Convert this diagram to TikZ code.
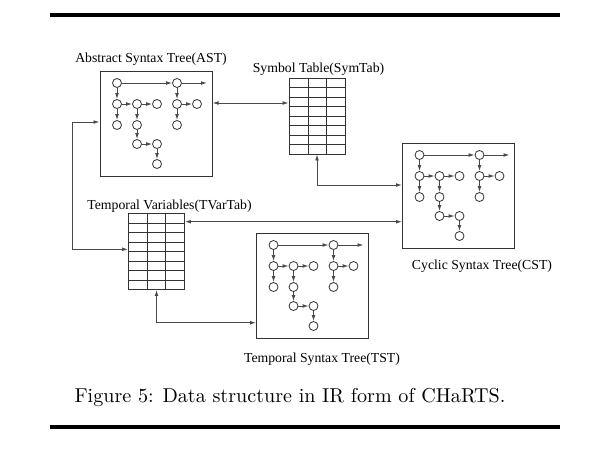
\documentclass[tikz,border=0pt]{standalone}
\usepackage{fontspec}
\newfontfamily\labelfont{Liberation Serif}
\usepackage{tikz}
\usetikzlibrary{positioning,arrows.meta,calc}
\usepackage{xcolor}
\definecolor{ink}{HTML}{333333}
\definecolor{wire}{HTML}{4A4A4A}
\tikzset{panel/.style={draw=ink,line width=1pt,minimum width=112pt,minimum height=105pt,inner sep=0pt},
  vertex/.style={circle,draw=ink,line width=0.8pt,minimum size=9pt,inner sep=0pt},
  treearrow/.style={->,draw=wire,line width=0.9pt},
  link/.style={<->,draw=wire,line width=0.9pt},
  tabbox/.style={draw=ink,line width=0.9pt,minimum width=56pt,minimum height=76pt,inner sep=0pt},
  title/.style={font=\labelfont\fontsize{13.75}{16}\selectfont,anchor=base},
  rule/.style={line width=4pt}}
\newcommand{\syntree}[2]{%
  \begin{scope}[shift={#2}]
    \node[panel] (#1) at (56,52.5) {};
    \foreach \n/\px/\py in {r/17/12,s/77/12,a1/17/33,a2/37/33,a3/57/33,b1/17/54,b2/37/54,
        c2/37/73,c3/57/73,d3/57/93,s1/77/33,s2/97/33,t1/77/54}
      \node[vertex] (#1-\n) at (\px,\py) {};
    \coordinate (#1-out) at (107,12);
    \foreach \u/\v in {r/s,s/out,r/a1,a1/a2,a2/a3,a1/b1,a2/b2,b2/c2,c2/c3,c3/d3,s/s1,s1/s2,s1/t1}
      \draw[treearrow] (#1-\u) -- (#1-\v);
  \end{scope}}
\newcommand{\vartab}[2]{%
  \begin{scope}[shift={#2}]
    \node[tabbox] (#1) at (28,38) {};
    \foreach \cx in {19,37} \draw[ink,line width=0.8pt] (\cx,0) -- (\cx,76);
    \foreach \ry in {1,...,7} \draw[ink,line width=0.8pt] (0,9.5*\ry) -- (56,9.5*\ry);
  \end{scope}}

\begin{document}
\begin{tikzpicture}[x=1pt,y=-1pt,>={Latex[length=6pt,width=3.8pt]}]
  \useasboundingbox (0,0) rectangle (615,448);
  \draw[rule] (50,15) -- (560,15);
  \draw[rule] (50,427) -- (560,427);
  % trees and tables
  \syntree{ast}{(100,71)}
  \syntree{cst}{(402.5,143)}
  \syntree{tst}{(256.5,233)}
  \vartab{symtab}{(289,78)}
  \vartab{tvar}{(128.5,213.5)}
  % labels
  \node[title] (astlbl) at (151,62.5) {Abstract Syntax Tree(AST)};
  \node[title] (symlbl) at (318.5,72.5) {Symbol Table(SymTab)};
  \node[title] (tvarlbl) at (169.5,209) {Temporal Variables(TVarTab)};
  \node[title] (cstlbl) at (482,269) {Cyclic Syntax Tree(CST)};
  \node[title] (tstlbl) at (322,362) {Temporal Syntax Tree(TST)};
  \node[anchor=base] (cap) at (290,402.7) {\scalebox{2.01}{Figure 5: Data structure in IR form of CHaRTS.}};
  % links between structures
  \draw[link] (ast.east |- 0,103) -- (symtab.west |- 0,103);
  \draw[link] (symtab.south) |- (cst.west |- 0,185);
  \draw[link] (tvar.east |- 0,221.7) -- (cst.west |- 0,221.7);
  \draw[link] (ast.west |- 0,122) -- ++(-27,0) |- (tvar.west |- 0,249.3);
  \draw[link] (tvar.south) |- (tst.west |- 0,322.7);
\end{tikzpicture}
\end{document}
